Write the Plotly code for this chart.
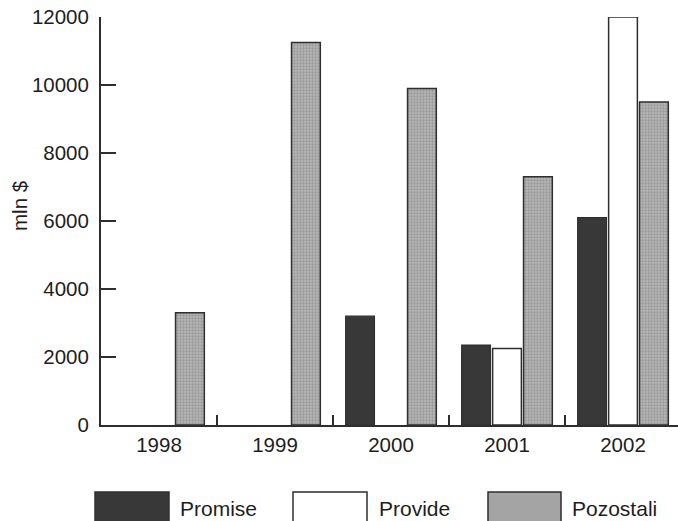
import plotly.graph_objects as go

years = ["1998", "1999", "2000", "2001", "2002"]
promise = [None, None, 3200, 2350, 6100]
provide = [None, None, None, 2250, 12000]
pozostali = [3300, 11250, 9900, 7300, 9500]
series_names = ["Promise", "Provide", "Pozostali"]
y_ticks = [0, 2000, 4000, 6000, 8000, 10000, 12000]
y_tick_labels = ["0", "2000", "4000", "6000", "8000", "10000", "12000"]

W, H = 678, 521
ML, MR, MT, MB = 101, 0, 17, 96
PW = W - ML - MR
PH = H - MT - MB

font_family = "Liberation Sans, Arial, sans-serif"
line_col = "#2e2e2e"
dark = "#383838"
gray_bg = "#b6b6b6"
gray_fg = "#7c7c7c"
txt_col = "#1e1e1e"
fs = 20.5

fig = go.Figure()
fig.add_trace(go.Bar(x=years, y=promise, name=series_names[0],
                     marker=dict(color=dark, line=dict(color=line_col, width=1.2))))
fig.add_trace(go.Bar(x=years, y=provide, name=series_names[1],
                     marker=dict(color="#ffffff", line=dict(color=line_col, width=1.5))))
fig.add_trace(go.Bar(x=years, y=pozostali, name=series_names[2],
                     marker=dict(color=gray_bg, line=dict(color=line_col, width=1.5),
                                 pattern=dict(shape=".", size=3, solidity=0.45,
                                              fgcolor=gray_fg, bgcolor=gray_bg))))

cat_px = 116.0
x_end = -0.5 + PW / cat_px

fig.update_layout(
    width=W, height=H,
    margin=dict(l=ML, r=MR, t=MT, b=MB, pad=0, autoexpand=False),
    paper_bgcolor="white", plot_bgcolor="white",
    barmode="group", bargap=0.2, bargroupgap=0.07,
    showlegend=False,
    font=dict(family=font_family, size=fs, color=txt_col),
    xaxis=dict(type="category", range=[-0.5, x_end], showgrid=False, zeroline=False,
               automargin=False,
               showline=True, linecolor=line_col, linewidth=2,
               ticks="inside", tickson="boundaries", ticklen=10, tickwidth=2,
               tickcolor=line_col, tickfont=dict(size=fs), ticklabelstandoff=0),
    yaxis=dict(range=[0, 12000], tickvals=y_ticks, ticktext=y_tick_labels,
               automargin=False,
               showgrid=False, zeroline=False, showline=True, linecolor=line_col,
               linewidth=2, ticks="inside", ticklen=15, tickwidth=2, tickcolor=line_col,
               tickfont=dict(size=fs), ticklabelstandoff=6),
)

def px_x(p):
    return (p - ML) / PW

def px_y(p):
    return (MT + PH - p) / PH

# y-axis title
fig.add_annotation(text="mln $", x=px_x(19), y=px_y(206), xref="paper", yref="paper",
                   textangle=-90, showarrow=False, font=dict(size=fs, color=txt_col),
                   xanchor="center", yanchor="middle")

# legend drawn manually with large swatches
legend_items = [
    (series_names[0], 95, 169, dict(fillcolor=dark), 178),
    (series_names[1], 293, 367, dict(fillcolor="#ffffff"), 377),
    (series_names[2], 488, 561, dict(fillcolor="#a4a4a4"), 570),
]
for name, x0, x1, fill, tx in legend_items:
    fig.add_shape(type="rect", xref="paper", yref="paper",
                  x0=px_x(x0), x1=px_x(x1), y0=px_y(530), y1=px_y(492),
                  line=dict(color=line_col, width=1.5), **fill)
    fig.add_annotation(text=name, x=px_x(tx), y=px_y(508), xref="paper", yref="paper",
                       showarrow=False, xanchor="left", yanchor="middle",
                       font=dict(size=fs + 0.5, color=txt_col))

fig.write_html("out.html", config={"displayModeBar": False},
               post_script="document.body.style.margin='0';document.body.style.overflow='hidden';")
